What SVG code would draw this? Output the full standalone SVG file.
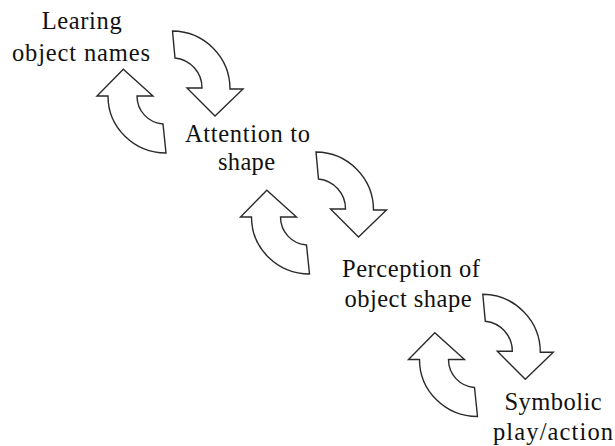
<svg xmlns="http://www.w3.org/2000/svg" xmlns:xlink="http://www.w3.org/1999/xlink" width="615" height="446" viewBox="0 0 615 446">
  <style>
    .lbl { font-family: "Liberation Serif", "Times New Roman", serif; font-size: 24.5px; fill: #111; text-anchor: middle; }
    .arr { fill: #fff; stroke: #2a2a2a; stroke-width: 1.4; stroke-linejoin: miter; }
  </style>
  <defs>
    <path id="down" class="arr" d="M172.5,31 A58,58 0 0 1 230,89 L243,89 L215,116 L187,88 L202,88 A30,30 0 0 0 175,58 Z"/>
    <path id="up" class="arr" d="M123.3,69.3 L97,96 L108,96 A58,57 0 0 0 166,153 L163,124 A28,28 0 0 1 137,96 L153,96 Z"/>
  </defs>
  <rect width="615" height="446" fill="#fff"/>
  <g id="connectors">
    <use xlink:href="#down"/>
    <use xlink:href="#up"/>
    <use xlink:href="#down" transform="translate(143.5,121)"/>
    <use xlink:href="#up" transform="translate(143.5,121)"/>
    <use xlink:href="#down" transform="translate(310.3,263.3)"/>
    <use xlink:href="#up" transform="translate(311.5,263.5)"/>
  </g>
  <g id="node-learning">
    <text class="lbl" x="81.7" y="29" textLength="80">Learing</text>
    <text class="lbl" x="81" y="61" textLength="138">object names</text>
  </g>
  <g id="node-attention">
    <text class="lbl" x="247.5" y="142" textLength="125">Attention to</text>
    <text class="lbl" x="246.5" y="170" textLength="57">shape</text>
  </g>
  <g id="node-perception">
    <text class="lbl" x="411" y="277" textLength="138">Perception of</text>
    <text class="lbl" x="408" y="307" textLength="127">object shape</text>
  </g>
  <g id="node-symbolic">
    <text class="lbl" x="553" y="410" textLength="97">Symbolic</text>
    <text class="lbl" x="553" y="440" textLength="120">play/action</text>
  </g>
</svg>
